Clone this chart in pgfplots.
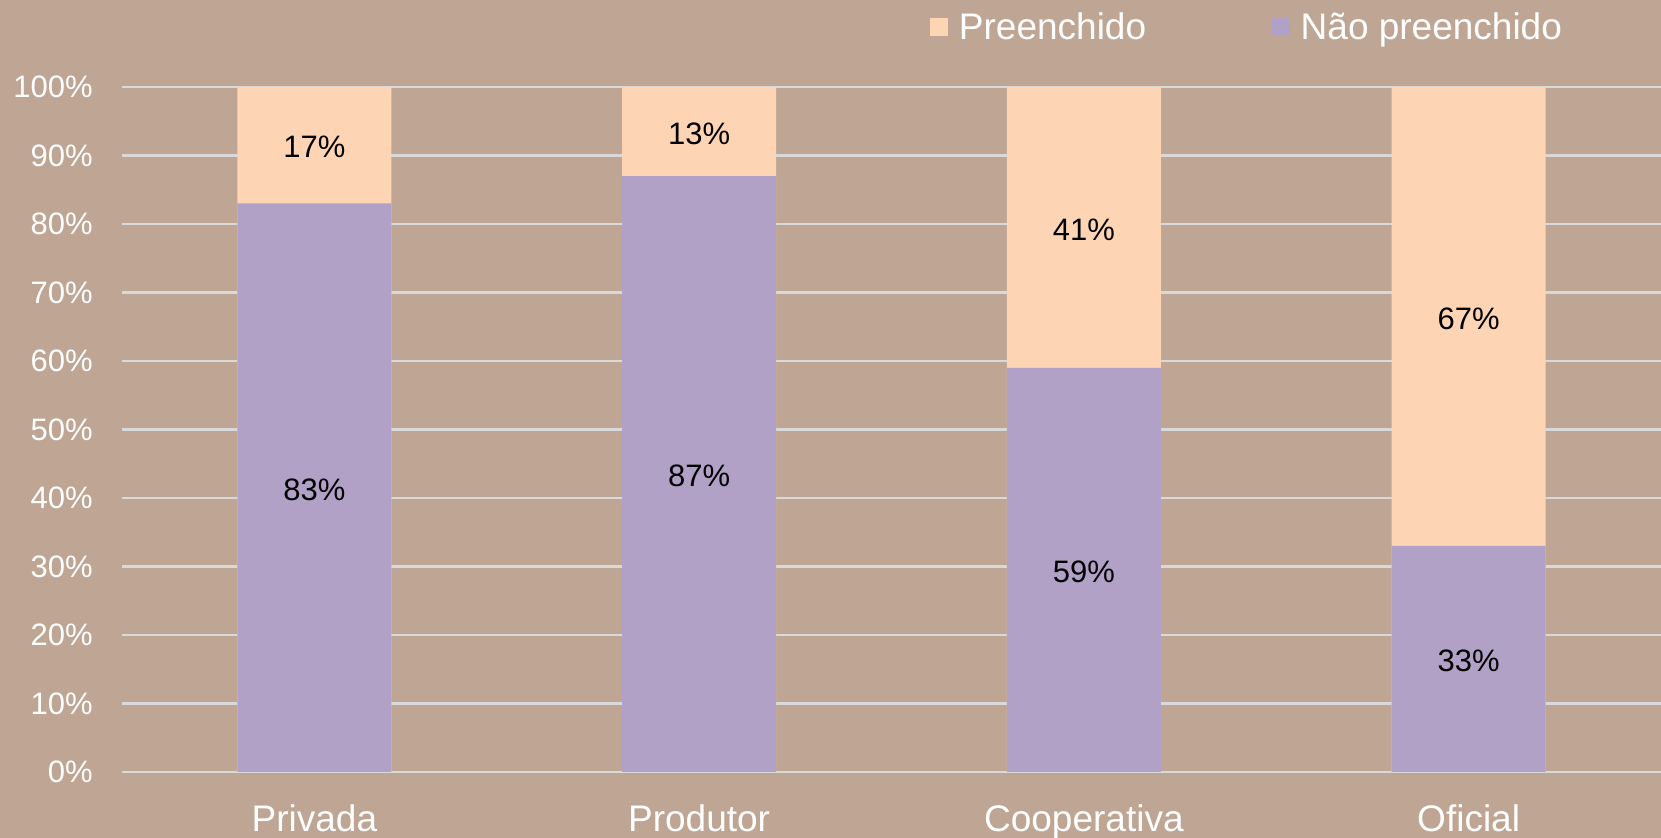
\documentclass[border=0pt]{standalone}
\usepackage{pgfplots}
\pgfplotsset{compat=1.18}
\usepackage{pgfplotstable}
\usepackage{fontspec}
\setmainfont{Liberation Sans}
\definecolor{bgc}{RGB}{191,165,147}
\definecolor{peach}{RGB}{253,213,180}
\definecolor{lav}{RGB}{177,161,199}
\definecolor{gridc}{RGB}{217,217,217}
\pgfplotstableread{
x np p
0 83 17
1 87 13
2 59 41
3 33 67
}\data
\begin{document}
\begin{tikzpicture}
\fill[bgc] (-61pt,-33pt) rectangle (769.5pt,386pt);
\begin{axis}[
  scale only axis, width=769.5pt, height=342.5pt,
  xmin=-0.5, xmax=3.5, ymin=0, ymax=100,
  xtick={0,1,2,3}, xticklabels={Privada,Produtor,Cooperativa,Oficial},
  ytick={0,10,...,100}, yticklabels={0\%,10\%,20\%,30\%,40\%,50\%,60\%,70\%,80\%,90\%,100\%},
  ymajorgrids, grid style={gridc, line width=1.3pt},
  axis line style={draw=none}, major tick length=0pt,
  tick label style={text=white},
  yticklabel style={font=\fontsize{15.5}{18}\selectfont, inner sep=0pt, xshift=-14.5pt},
  xticklabel style={font=\fontsize{18.5}{22}\selectfont, inner sep=0pt, yshift=-16pt},
  /pgf/number format/assume math mode=true,
  clip=false,
  legend columns=2,
  legend style={at={(0.525,1.087)}, anchor=west, draw=none, fill=none,
     font=\fontsize{18.5}{22}\selectfont, text=white, inner sep=0pt,
     nodes={inner sep=0pt},
     /tikz/every odd column/.append style={column sep=5.3pt},
     /tikz/every even column/.append style={column sep=63pt}},
  sq/.style={legend image code/.code={\fill[##1] (0pt,-4.5pt) rectangle (9pt,4.5pt);}},
  lbl/.style={draw=none, mark=none, forget plot,
     nodes near coords={\pgfmathprintnumber[fixed,precision=0]{\pgfplotspointmeta}\%},
     every node near coord/.style={anchor=center, inner sep=0pt, yshift=-1pt, text=black, font=\fontsize{15.5}{18}\selectfont}},
]
\addplot[ybar, bar width=0.4, bar shift=0pt, fill=peach, draw=none, sq] table[x=x, y expr=\thisrow{np}+\thisrow{p}] {\data};
\addlegendentry{Preenchido}
\addplot[ybar, bar width=0.4, bar shift=0pt, fill=lav, draw=none, sq] table[x=x, y=np] {\data};
\addlegendentry{Não preenchido}
\addplot[lbl, point meta=\thisrow{p}] table[x=x, y expr=\thisrow{np}+\thisrow{p}/2] {\data};
\addplot[lbl, point meta=\thisrow{np}] table[x=x, y expr=\thisrow{np}/2] {\data};
\end{axis}
\pgfresetboundingbox
\path[use as bounding box] (-61pt,-33pt) rectangle (769.5pt,386pt);
\end{tikzpicture}
\end{document}
